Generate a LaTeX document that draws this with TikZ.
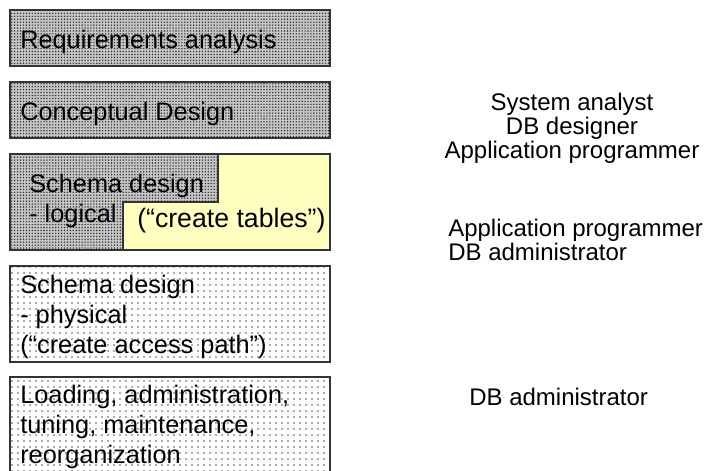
\documentclass[tikz,border=0pt]{standalone}
\usepackage{fontspec}
\setmainfont{Liberation Sans}
\usetikzlibrary{patterns.meta}

\definecolor{notefill}{HTML}{FFFFC0}

\tikzset{
  phase/.style={draw=black!80, line width=1pt},
  darkphase/.style={phase, preaction={fill=gray!45},
    pattern={Dots[distance=2.2pt, radius=0.6pt]}, pattern color=black!80},
  lightphase/.style={phase, preaction={fill=white},
    pattern={Dots[distance=4.5pt, radius=0.7pt]}, pattern color=black!65},
  boxtext/.style={anchor=base west, inner sep=0pt, align=left,
    font=\fontsize{19}{22.5}\selectfont},
  roletext/.style={anchor=base, inner sep=0pt,
    font=\fontsize{18}{18}\selectfont}
}

\begin{document}
\begin{tikzpicture}[x=0.75pt, y=-0.75pt]
  \clip (0,0) rectangle (708,471);

  % the five phases, top to bottom
  \draw [darkphase] (10,10) rectangle (330,66);
  \draw [darkphase] (10,82) rectangle (330,138);
  \draw [darkphase] (10,154) rectangle (330,250);
  \draw [phase, fill=notefill] (218,154) -- (330,154) -- (330,250)
    -- (123,250) -- (123,202) -- (218,202) -- cycle;
  \draw [lightphase] (10,266) rectangle (330,362);
  \draw [lightphase] (10,377) rectangle (330,476);

  \node (req) [boxtext] at (20,48) {Requirements analysis};
  \node (concept) [boxtext] at (20,120) {Conceptual Design};
  \node (logical) [boxtext] at (29,222) {Schema design\\- logical};
  \node (tables) [boxtext, font=\fontsize{20}{22.5}\selectfont] at (137,227) {(“create tables”)};
  \node (physical) [boxtext] at (20,353) {Schema design\\- physical\\(“create access path”)};
  \node (admin) [boxtext] at (20,463) {Loading, administration,\\tuning, maintenance,\\reorganization};

  % who takes part
  \node (roles1) [roletext, align=center] at (572,158) {System analyst\\DB designer\\Application programmer};
  \node (roles2) [roletext, anchor=base west, align=left] at (448,260) {Application programmer\\DB administrator};
  \node (roles3) [roletext, anchor=base west] at (469,405) {DB administrator};
\end{tikzpicture}
\end{document}
